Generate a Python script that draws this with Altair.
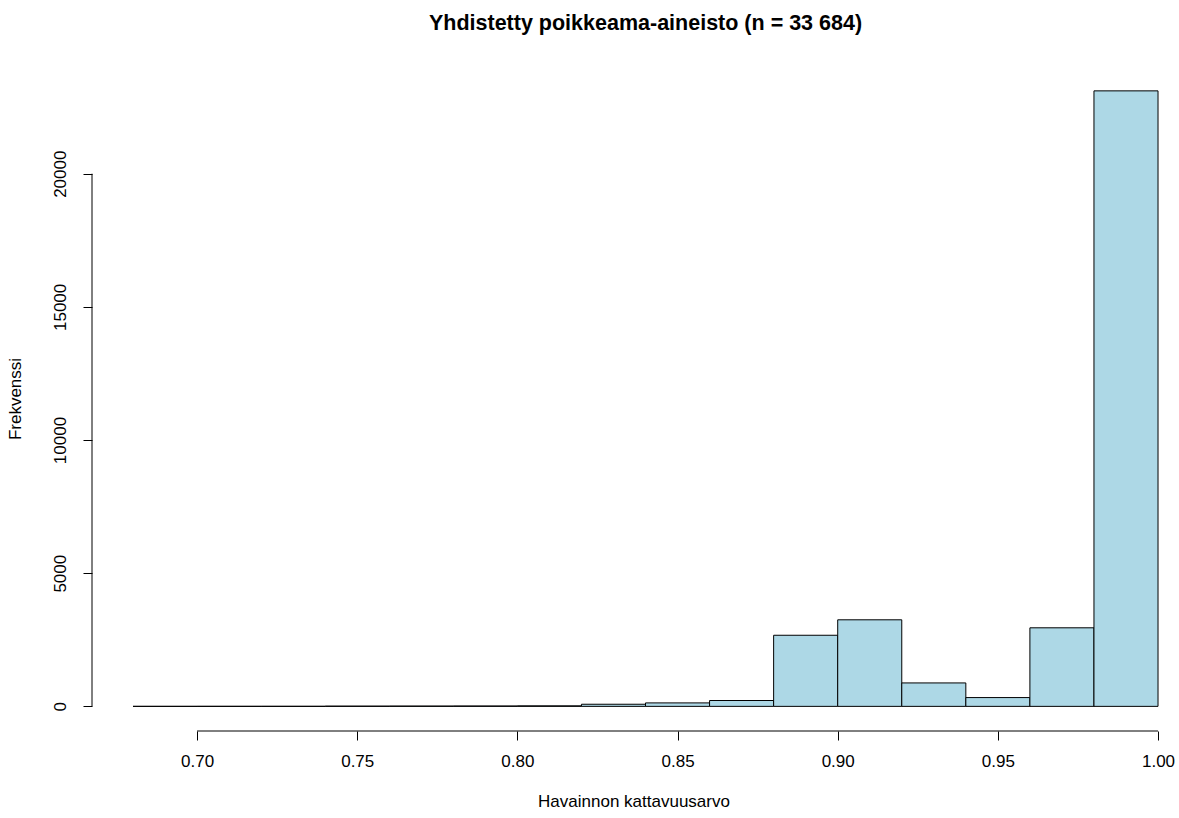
import altair as alt
import pandas as pd

bin_start = [0.68, 0.70, 0.72, 0.74, 0.76, 0.78, 0.80, 0.82, 0.84, 0.86, 0.88, 0.90, 0.92, 0.94, 0.96, 0.98]
bin_end = [0.70, 0.72, 0.74, 0.76, 0.78, 0.80, 0.82, 0.84, 0.86, 0.88, 0.90, 0.92, 0.94, 0.96, 0.98, 1.00]
counts = [1, 2, 3, 10, 12, 15, 20, 80, 130, 220, 2670, 3250, 880, 330, 2950, 23111]
x_ticks = [0.70, 0.75, 0.80, 0.85, 0.90, 0.95, 1.00]
y_ticks = [0, 5000, 10000, 15000, 20000]

df = pd.DataFrame({"start": bin_start, "end": bin_end, "count": counts})
one = pd.DataFrame({"k": [0]})

FONT = "Liberation Sans"
W, H = 1083, 665

xs = alt.Scale(domain=[0.6672, 1.0053], nice=False, zero=False)
ys = alt.Scale(domain=[-925, 24045], nice=False, zero=False)

bars = alt.Chart(df).mark_rect(fill="#ADD8E6", stroke="black", strokeWidth=1).encode(
    x=alt.X("start:Q", scale=xs, axis=alt.Axis(
        values=x_ticks, format=".2f", title="Havainnon kattavuusarvo",
        domain=False, grid=False, tickSize=9, tickColor="black", tickWidth=1,
        labelFontSize=17, labelColor="black", labelFont=FONT, labelPadding=13,
        titleFontSize=17, titleFont=FONT, titleFontWeight="normal", titleColor="black",
        titlePadding=24)),
    x2="end:Q",
    y=alt.Y("count:Q", scale=ys, axis=alt.Axis(
        values=y_ticks, format="d", title="Frekvenssi",
        domain=False, grid=False, tickSize=9, tickColor="black", tickWidth=1,
        labelFontSize=17, labelColor="black", labelFont=FONT, labelAngle=270,
        labelAlign="center", labelBaseline="bottom", labelPadding=14,
        titleFontSize=17, titleFont=FONT, titleFontWeight="normal", titleColor="black",
        titlePadding=27)),
    y2=alt.datum(0),
)

xline = alt.Chart(one).mark_rule(color="black", strokeWidth=1).encode(
    x=alt.datum(x_ticks[0], scale=xs), x2=alt.datum(x_ticks[-1]), y=alt.value(H)
)
yline = alt.Chart(one).mark_rule(color="black", strokeWidth=1).encode(
    y=alt.datum(y_ticks[0], scale=ys), y2=alt.datum(y_ticks[-1]), x=alt.value(0)
)

chart = alt.layer(bars, xline, yline).properties(
    width=W, height=H,
    background="white",
    title=alt.TitleParams("Yhdistetty poikkeama-aineisto (n = 33 684)", font=FONT,
                          fontSize=21.5, fontWeight="bold", color="black", anchor="middle",
                          offset=32, dx=12),
    autosize=alt.AutoSizeParams(type="none"),
    padding={"left": 92, "top": 66, "right": 4, "bottom": 87},
).configure_view(stroke="transparent", strokeWidth=0)

chart.save("out.html", embed_options={"renderer": "svg", "actions": False})
